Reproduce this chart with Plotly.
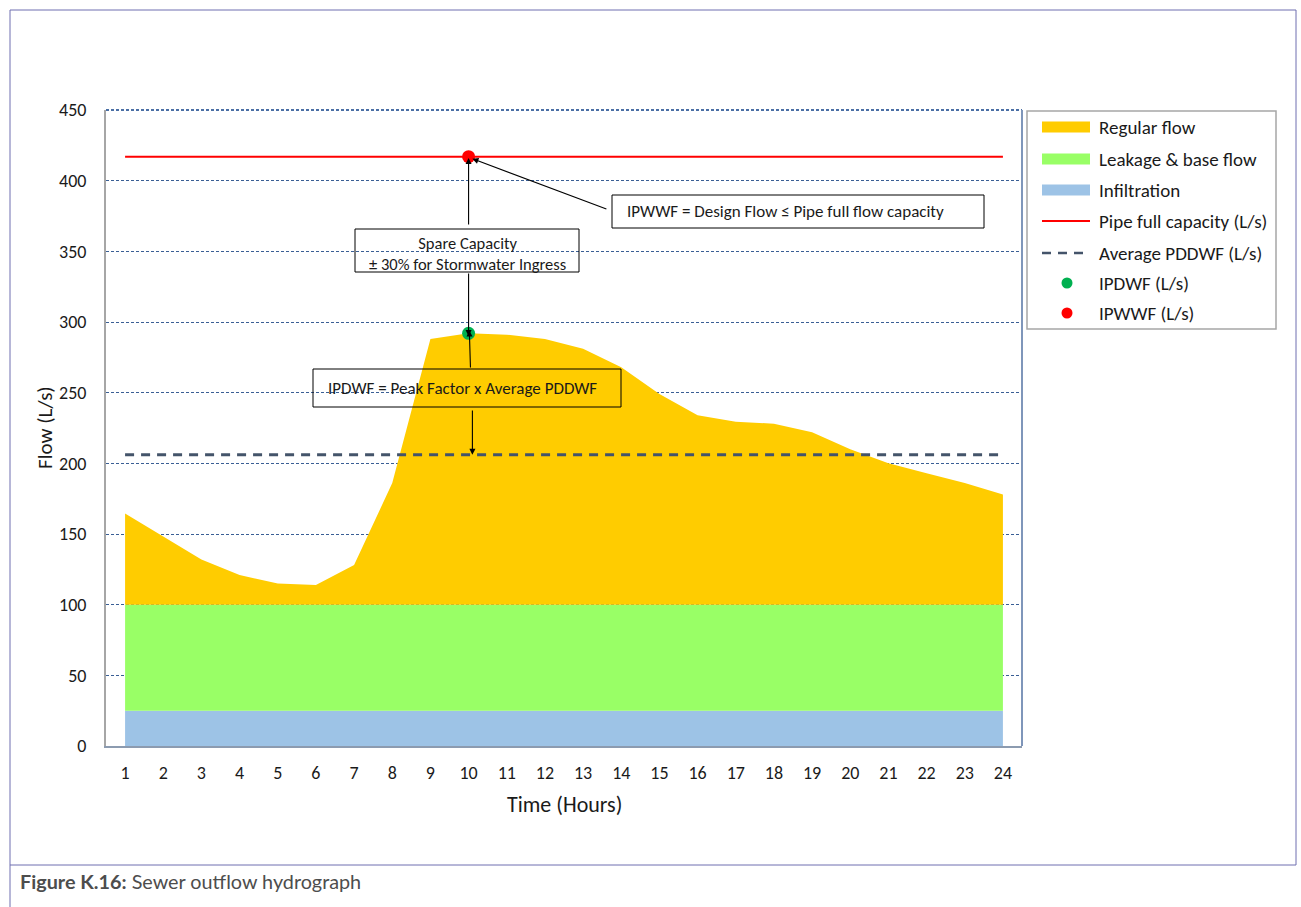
import plotly.graph_objects as go

# ---- data -------------------------------------------------------------
HOURS = [1, 2, 3, 4, 5, 6, 7, 8, 9, 10, 11, 12,
         13, 14, 15, 16, 17, 18, 19, 20, 21, 22, 23, 24]
INFILTRATION = [25, 25, 25, 25, 25, 25, 25, 25, 25, 25, 25, 25,
                25, 25, 25, 25, 25, 25, 25, 25, 25, 25, 25, 25]
LEAKAGE_BASE = [75, 75, 75, 75, 75, 75, 75, 75, 75, 75, 75, 75,
                75, 75, 75, 75, 75, 75, 75, 75, 75, 75, 75, 75]
REGULAR_FLOW = [64.5, 48, 32, 21, 15, 14, 28, 86, 188, 192, 191, 188,
                181, 168, 149, 134, 129.5, 128, 122, 110, 100, 93, 86, 78]
PIPE_CAPACITY = 417
AVERAGE_PDDWF = 206
PEAK_HOUR = 10
IPDWF = 292
IPWWF = 417
Y_TICKS = [0, 50, 100, 150, 200, 250, 300, 350, 400, 450]

# ---- page geometry (pixels) ---------------------------------------------
W, H = 1301, 907
L, R, T, B = 106, 1022, 110, 746

def px(x):
    return (x - L) / (R - L)

def py(y):
    return (B - y) / (B - T)

FONT = "Carlito, Lato, sans-serif"
CAPTION_FONT = "Lato, sans-serif"
TXT = "#1a1a1a"

C_REG = "#FFCC00"
C_LEAK = "#99FF66"
C_INF = "#9DC3E6"
C_PIPE = "#FF0000"
C_AVG = "#44546A"
C_IPDWF = "#00B050"
C_IPWWF = "#FF0000"

fig = go.Figure()

# stacked flow components
for name, vals, col in [("Infiltration", INFILTRATION, C_INF),
                        ("Leakage & base flow", LEAKAGE_BASE, C_LEAK),
                        ("Regular flow", REGULAR_FLOW, C_REG)]:
    fig.add_trace(go.Scatter(x=HOURS, y=vals, name=name, stackgroup="flow",
                             mode="lines", line=dict(width=0), fillcolor=col,
                             showlegend=False, hoverinfo="x+y+name"))

fig.add_trace(go.Scatter(x=HOURS, y=[PIPE_CAPACITY] * len(HOURS),
                         name="Pipe full capacity (L/s)", mode="lines",
                         line=dict(color=C_PIPE, width=2), showlegend=False))
fig.add_trace(go.Scatter(x=HOURS, y=[AVERAGE_PDDWF] * len(HOURS),
                         name="Average PDDWF (L/s)", mode="lines",
                         line=dict(color=C_AVG, width=3, dash="9px,7px"),
                         showlegend=False))
fig.add_trace(go.Scatter(x=[PEAK_HOUR], y=[IPDWF], name="IPDWF (L/s)",
                         mode="markers", marker=dict(color=C_IPDWF, size=13),
                         showlegend=False))
fig.add_trace(go.Scatter(x=[PEAK_HOUR], y=[IPWWF], name="IPWWF (L/s)",
                         mode="markers", marker=dict(color=C_IPWWF, size=13),
                         showlegend=False))

shapes = []
annotations = []

def pline(x0, y0, x1, y1, color, width=1, dash=None, layer="above"):
    d = dict(color=color, width=width)
    if dash:
        d["dash"] = dash
    shapes.append(dict(type="line", xref="paper", yref="paper",
                       x0=px(x0), y0=py(y0), x1=px(x1), y1=py(y1),
                       line=d, layer=layer))

# outer frame and caption divider
FRAME = "#6F6FB0"
pline(10, 10, 1296, 10, FRAME)
pline(10, 10, 10, 907, FRAME)
pline(1296, 10, 1296, 865, FRAME)
pline(10, 865, 1296, 865, FRAME)

# plot-area border
pline(L, T, R, T, "#4A6FA5", 2, dash="3px,2px")
pline(R, T, R, B, "#7F96BA", 2)

# annotation boxes (transparent, black border)
def box(x0, y0, x1, y1):
    shapes.append(dict(type="rect", xref="paper", yref="paper",
                       x0=px(x0), y0=py(y0), x1=px(x1), y1=py(y1),
                       line=dict(color="#000000", width=1),
                       fillcolor="rgba(0,0,0,0)", layer="above"))

box(612, 195, 984, 228)
box(355, 229, 579, 272)
box(313, 369, 621, 407)

def ptext(x, y, text, size=14, xanchor="left", family=FONT, **kw):
    annotations.append(dict(xref="paper", yref="paper", x=px(x), y=py(y),
                            text=text, showarrow=False, xanchor=xanchor,
                            yanchor="middle",
                            font=dict(family=family, size=size,
                                      color=kw.pop("color", TXT)),
                            **kw))

ptext(625, 212, "IPWWF = Design Flow \u2264 Pipe full flow capacity", 17)
ptext(467, 254, "Spare Capacity<br>\u00b1 30% for Stormwater Ingress", 16.5,
      xanchor="center", align="center")
ptext(326, 388, "IPDWF = Peak Factor x Average PDDWF", 17)

# arrows in data coordinates
def arrow(xh, yh, xt, yt):
    annotations.append(dict(x=xh, y=yh, ax=xt, ay=yt, xref="x", yref="y",
                            axref="x", ayref="y", text="", showarrow=True,
                            arrowhead=2, arrowsize=1.1, arrowwidth=1.1,
                            arrowcolor="#000000", standoff=0, startstandoff=0))

arrow(PEAK_HOUR + 0.1, IPWWF - 1.5, 13.65, 379.5)
arrow(PEAK_HOUR, IPWWF - 1, PEAK_HOUR, 368)
arrow(PEAK_HOUR, IPDWF - 2, PEAK_HOUR, 335.4)
arrow(PEAK_HOUR + 0.02, IPDWF + 2, PEAK_HOUR + 0.05, 266.8)
arrow(PEAK_HOUR + 0.1, AVERAGE_PDDWF, PEAK_HOUR + 0.1, 238.4)

# axis titles
ptext(45, 428, "Flow (L/s)", 21, xanchor="center", textangle=-90)
ptext(564, 804, "Time (Hours)", 22, xanchor="center")

# legend
LX0, LX1 = 1042, 1090
shapes.append(dict(type="rect", xref="paper", yref="paper",
                   x0=px(1027), y0=py(111), x1=px(1276), y1=py(329),
                   line=dict(color="#A6A6A6", width=1.5),
                   fillcolor="rgba(255,255,255,0)", layer="above"))
rows = [127, 159, 190, 221, 253, 283, 313]
labels = ["Regular flow", "Leakage & base flow", "Infiltration",
          "Pipe full capacity (L/s)", "Average PDDWF (L/s)",
          "IPDWF (L/s)", "IPWWF (L/s)"]
for ry, col in zip(rows[:3], [C_REG, C_LEAK, C_INF]):
    shapes.append(dict(type="rect", xref="paper", yref="paper",
                       x0=px(LX0), y0=py(ry - 5.5), x1=px(LX1), y1=py(ry + 5.5),
                       line=dict(width=0), fillcolor=col, layer="above"))
pline(LX0, rows[3], LX1, rows[3], C_PIPE, 2)
pline(LX0, rows[4], LX1, rows[4], C_AVG, 2.5, dash="9px,7px")
for ry, col in [(rows[5], C_IPDWF), (rows[6], C_IPWWF)]:
    shapes.append(dict(type="circle", xref="paper", yref="paper",
                       x0=px(1061.5), y0=py(ry - 5.5), x1=px(1072.5), y1=py(ry + 5.5),
                       line=dict(width=0), fillcolor=col, layer="above"))
for ry, lab in zip(rows, labels):
    ptext(1097, ry, lab, 19)

# caption
ptext(18, 881, "<b>Figure K.16:</b> Sewer outflow hydrograph", 19.8,
      family=CAPTION_FONT, color="#4D4D4D")

fig.update_layout(
    width=W, height=H,
    margin=dict(l=L, r=W - R, t=T, b=H - B, pad=0),
    paper_bgcolor="#FFFFFF", plot_bgcolor="#FFFFFF",
    font=dict(family=FONT, size=17, color=TXT),
    showlegend=False,
    shapes=shapes, annotations=annotations,
    xaxis=dict(range=[0.5, 24.5], tickvals=HOURS,
               ticktext=[str(h) for h in HOURS],
               showgrid=False, zeroline=False,
               showline=True, linecolor="#8C9BB0", linewidth=2,
               ticks="outside", ticklen=9, tickcolor="rgba(0,0,0,0)",
               tickfont=dict(family=FONT, size=18, color=TXT), fixedrange=True),
    yaxis=dict(range=[0, 450], tickvals=Y_TICKS,
               showgrid=True, gridcolor="#3A5F95", gridwidth=1,
               griddash="3px,2px", zeroline=False,
               showline=True, linecolor="#A6A6A6", linewidth=2,
               ticks="outside", ticklen=14, tickcolor="rgba(0,0,0,0)",
               tickfont=dict(family=FONT, size=18, color=TXT), fixedrange=True),
)

fig.write_html("out.html")
